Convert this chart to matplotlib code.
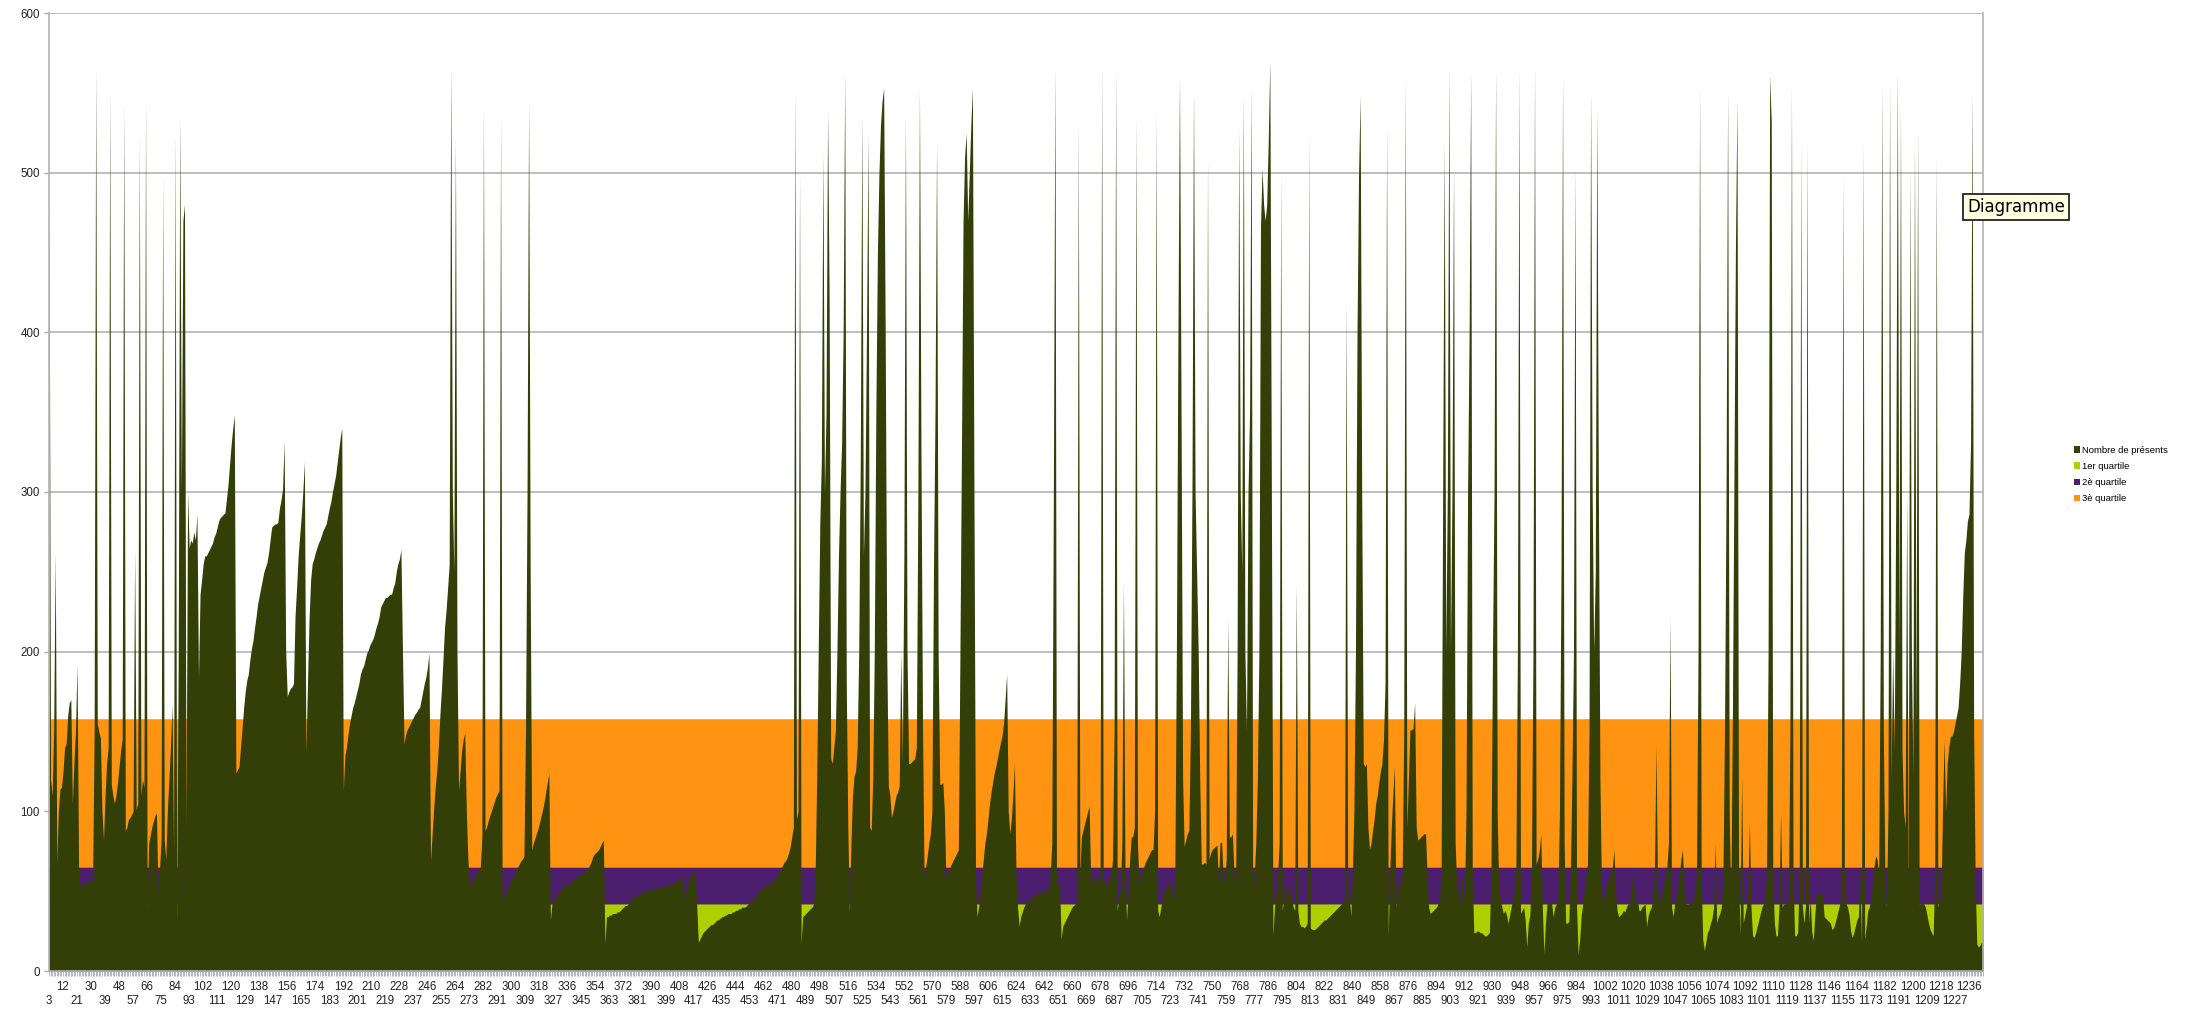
import numpy as np
import matplotlib.pyplot as plt
from matplotlib.patches import Patch

plt.rcParams['font.family'] = ['Liberation Sans', 'DejaVu Sans']

# nombre de présents, une valeur par catégorie, de la catégorie 3 à 1245
presents_1 = [
    510, 120, 110, 150, 262, 68, 100, 114, 115, 125,
    140, 142, 160, 168, 170, 105, 130, 150, 192, 65,
    54, 52, 55, 56, 56, 56, 56, 56, 57, 150,
    567, 155, 150, 146, 100, 82, 110, 130, 140, 551,
    117, 110, 105, 110, 118, 128, 138, 145, 544, 88,
    90, 95, 96, 98, 100, 264, 101, 105, 523, 110,
    120, 115, 546, 40, 80, 85, 90, 94, 97, 99,
    48, 64, 82, 499, 82, 70, 100, 120, 140, 167,
    75, 527, 30, 200, 536, 300, 470, 480, 90, 300,
    265, 270, 268, 275, 270, 286, 184, 236, 245, 255,
]
presents_2 = [
    260, 260, 262, 264, 266, 268, 272, 274, 278, 282,
    284, 285, 286, 287, 296, 305, 318, 330, 340, 348,
    124, 126, 128, 140, 152, 165, 175, 182, 186, 195,
    202, 207, 215, 222, 230, 235, 240, 245, 250, 253,
    256, 262, 270, 278, 279, 280, 280, 281, 290, 295,
    302, 332, 200, 172, 175, 177, 178, 180, 222, 240,
    260, 273, 285, 300, 319, 136, 180, 220, 245, 255,
    258, 262, 265, 268, 270, 273, 276, 278, 280, 285,
    290, 294, 300, 305, 310, 318, 326, 334, 340, 113,
    135, 140, 148, 155, 160, 165, 168, 172, 176, 180,
]
presents_3 = [
    186, 189, 191, 195, 199, 201, 204, 206, 208, 211,
    215, 218, 222, 228, 230, 232, 234, 234, 235, 236,
    236, 240, 243, 250, 255, 258, 264, 200, 142, 148,
    151, 153, 155, 157, 159, 161, 162, 164, 165, 170,
    175, 180, 184, 190, 199, 69, 85, 101, 115, 125,
    140, 160, 176, 195, 215, 226, 240, 255, 567, 300,
    250, 522, 200, 113, 125, 138, 145, 149, 100, 70,
    54, 55, 57, 58, 60, 62, 64, 65, 84, 543,
    88, 90, 94, 97, 100, 103, 106, 109, 111, 113,
    536, 45, 47, 49, 51, 53, 55, 57, 59, 61,
]
presents_4 = [
    63, 65, 67, 69, 70, 72, 150, 300, 544, 250,
    76, 80, 83, 86, 89, 93, 97, 101, 106, 112,
    118, 124, 32, 42, 44, 46, 48, 49, 50, 51,
    52, 53, 54, 54, 55, 56, 56, 57, 58, 59,
    59, 60, 61, 62, 62, 63, 64, 66, 68, 71,
    73, 74, 75, 76, 78, 80, 82, 17, 34, 34,
    35, 35, 36, 36, 36, 37, 37, 38, 39, 40,
    41, 41, 42, 43, 45, 46, 47, 47, 48, 48,
    49, 49, 50, 50, 50, 51, 51, 51, 51, 52,
    52, 52, 52, 52, 53, 53, 53, 53, 54, 54,
]
presents_5 = [
    55, 55, 56, 56, 57, 57, 59, 60, 44, 50,
    54, 57, 59, 61, 62, 63, 40, 18, 20, 22,
    24, 25, 26, 27, 28, 29, 29, 30, 31, 32,
    32, 33, 34, 34, 35, 35, 36, 36, 36, 37,
    37, 38, 38, 39, 39, 40, 40, 40, 41, 42,
    43, 44, 45, 46, 47, 49, 50, 51, 52, 52,
    53, 54, 54, 55, 56, 57, 58, 59, 60, 62,
    64, 66, 68, 69, 71, 74, 78, 84, 90, 553,
    95, 100, 501, 17, 34, 35, 36, 37, 38, 39,
    40, 42, 60, 120, 200, 280, 320, 512, 300, 350,
]
presents_6 = [
    538, 420, 133, 130, 140, 150, 200, 260, 300, 330,
    400, 562, 180, 90, 36, 80, 110, 122, 125, 140,
    200, 320, 536, 260, 300, 400, 524, 90, 88, 120,
    200, 350, 450, 500, 530, 545, 553, 400, 200, 116,
    110, 96, 100, 105, 110, 112, 116, 200, 130, 260,
    536, 200, 130, 130, 131, 132, 133, 140, 300, 552,
    320, 150, 55, 65, 72, 80, 86, 100, 250, 350,
    520, 200, 117, 117, 118, 100, 57, 60, 63, 66,
    68, 70, 72, 74, 76, 200, 330, 470, 510, 525,
    470, 500, 530, 553, 300, 60, 34, 40, 50, 60,
]
presents_7 = [
    70, 80, 86, 95, 105, 112, 118, 124, 128, 133,
    138, 143, 147, 155, 170, 186, 100, 86, 95, 110,
    130, 60, 40, 28, 34, 37, 40, 42, 43, 44,
    45, 46, 47, 47, 48, 48, 49, 49, 49, 50,
    50, 50, 52, 60, 80, 300, 567, 55, 55, 54,
    20, 28, 30, 32, 34, 36, 38, 40, 41, 42,
    43, 533, 60, 84, 88, 92, 96, 100, 103, 55,
    56, 57, 61, 58, 57, 57, 567, 60, 53, 54,
    56, 58, 60, 70, 150, 566, 38, 45, 50, 80,
    244, 60, 32, 50, 70, 84, 84, 90, 536, 80,
]
presents_8 = [
    55, 58, 62, 65, 68, 70, 72, 74, 76, 76,
    100, 540, 38, 34, 40, 45, 50, 51, 53, 55,
    55, 50, 42, 60, 200, 400, 560, 350, 120, 78,
    82, 86, 88, 150, 300, 552, 300, 250, 200, 120,
    67, 67, 68, 67, 509, 70, 74, 76, 77, 78,
    79, 55, 80, 81, 60, 55, 70, 221, 84, 84,
    86, 60, 45, 200, 528, 300, 250, 549, 200, 150,
    300, 350, 554, 42, 60, 80, 120, 200, 465, 503,
    480, 470, 480, 520, 570, 300, 22, 40, 50, 60,
    80, 500, 38, 45, 50, 55, 52, 48, 45, 40,
]
presents_9 = [
    38, 243, 38, 30, 28, 28, 27, 28, 30, 525,
    27, 26, 26, 26, 27, 28, 29, 30, 31, 32,
    32, 33, 34, 35, 36, 37, 38, 39, 40, 41,
    42, 43, 45, 420, 50, 48, 34, 60, 100, 200,
    400, 500, 548, 300, 130, 128, 130, 90, 76, 80,
    88, 95, 105, 110, 118, 125, 130, 145, 180, 530,
    22, 60, 90, 110, 128, 40, 50, 55, 55, 60,
    150, 559, 90, 120, 151, 151, 152, 168, 90, 82,
    83, 84, 85, 86, 86, 60, 40, 36, 37, 38,
    39, 40, 42, 44, 60, 300, 519, 200, 300, 565,
]
presents_10 = [
    200, 300, 505, 80, 55, 50, 42, 60, 55, 45,
    100, 300, 400, 564, 60, 24, 24, 25, 25, 24,
    24, 23, 22, 22, 23, 24, 60, 200, 300, 566,
    100, 50, 45, 40, 36, 38, 35, 30, 35, 40,
    45, 50, 60, 200, 565, 36, 38, 40, 32, 15,
    30, 35, 60, 200, 568, 67, 70, 75, 86, 40,
    11, 30, 42, 43, 44, 42, 34, 40, 42, 43,
    100, 250, 562, 80, 30, 30, 31, 60, 120, 200,
    505, 40, 10, 20, 35, 42, 50, 60, 67, 150,
    551, 300, 200, 250, 540, 300, 120, 50, 42, 48,
]
presents_11 = [
    55, 56, 58, 60, 65, 76, 50, 38, 34, 35,
    36, 38, 37, 40, 42, 42, 50, 63, 50, 42,
    45, 38, 38, 40, 41, 42, 28, 35, 38, 40,
    45, 60, 142, 50, 42, 45, 50, 55, 60, 65,
    80, 222, 40, 34, 42, 46, 52, 60, 70, 76,
    50, 42, 42, 42, 43, 42, 45, 50, 60, 200,
    554, 60, 20, 13, 18, 24, 26, 30, 33, 40,
    80, 30, 34, 36, 40, 60, 150, 300, 552, 100,
    40, 150, 300, 450, 546, 60, 22, 122, 30, 35,
    40, 50, 92, 40, 22, 21, 24, 28, 32, 36,
]
presents_12 = [
    40, 42, 45, 60, 200, 561, 532, 60, 30, 22,
    22, 40, 99, 40, 42, 42, 43, 42, 150, 555,
    60, 22, 22, 24, 60, 519, 40, 30, 40, 519,
    30, 45, 25, 19, 35, 48, 49, 48, 48, 47,
    34, 33, 32, 31, 30, 26, 27, 30, 34, 38,
    42, 45, 499, 50, 42, 40, 35, 25, 21, 24,
    28, 32, 34, 60, 17, 520, 20, 28, 38, 40,
    45, 55, 65, 72, 70, 60, 200, 555, 150, 60,
    40, 100, 557, 120, 200, 138, 300, 563, 200, 542,
    138, 100, 90, 300, 40, 502, 200, 120, 522, 150,
]
presents_13 = [
    527, 42, 42, 43, 42, 40, 35, 30, 26, 24,
    22, 60, 510, 40, 44, 46, 100, 145, 100, 130,
    140, 147, 147, 150, 155, 160, 165, 180, 200, 235,
    262, 270, 282, 286, 330, 550, 150, 55, 17, 15,
    16, 18, 20,
]

# quartiles (constants sur toute la période)
q1 = 42
q2 = 65
q3 = 158

premiere_cat = 3
pas_labels = 9
derniere_label = 1236

series = ['Nombre de présents', '1er quartile', '2è quartile', '3è quartile']
couleurs = ['#333f07', '#b0cf00', '#4b1f6e', '#ff9412']

presents = np.array(presents_1 + presents_2 + presents_3 + presents_4 + presents_5
                    + presents_6 + presents_7 + presents_8 + presents_9 + presents_10
                    + presents_11 + presents_12 + presents_13, dtype=float)
x = np.arange(premiere_cat, premiere_cat + len(presents))

fig = plt.figure(figsize=(22, 10.33), dpi=100)
ax = fig.add_axes([49 / 2200, 62 / 1033, 1934 / 2200, 958 / 1033])

# bandes des quartiles puis la série principale par-dessus
ax.fill_between(x, 0, np.full(len(x), q3), color=couleurs[3], lw=0)
ax.fill_between(x, 0, np.full(len(x), q2), color=couleurs[2], lw=0)
ax.fill_between(x, 0, np.full(len(x), q1), color=couleurs[1], lw=0)
ax.fill_between(x, 0, presents, color=couleurs[0], lw=0)

ax.set_xlim(x[0], x[-1])
ax.set_ylim(0, 600)
ax.set_yticks(range(0, 601, 100))
ax.set_axisbelow(True)
ax.yaxis.grid(True, color='#b3b3b3', lw=1.2)

# étiquettes en quinconce : une rangée haute, une rangée basse
ticks = list(range(premiere_cat, derniere_label + 1, pas_labels))
ticks_haut = ticks[1::2]
ticks_bas = ticks[0::2]
ax.set_xticks(ticks_haut)
ax.set_xticklabels([str(t) for t in ticks_haut])
ax.set_xticks(x, minor=True)
ax.tick_params(axis='x', which='both', length=3.6, width=0.6, color='#aaaaaa',
               labelsize=8.3, labelcolor='#222222', pad=3.4)

sec = ax.secondary_xaxis('bottom')
sec.set_xticks(ticks_bas)
sec.set_xticklabels([str(t) for t in ticks_bas])
sec.tick_params(length=0, labelsize=8.3, labelcolor='#222222', pad=17.6)
sec.spines['bottom'].set_visible(False)

ax.tick_params(axis='y', length=3.6, width=1, color='#aaaaaa',
               labelsize=8.3, labelcolor='#222222', pad=3)

for side in ['left', 'right', 'bottom']:
    ax.spines[side].set_color('#b3b3b3')
    ax.spines[side].set_linewidth(1.2)
ax.spines['top'].set_visible(False)

handles = [Patch(facecolor=c, edgecolor='none') for c in couleurs]
fig.legend(handles, series, loc='upper left', bbox_to_anchor=(2074 / 2200, 1 - 446 / 1033),
           frameon=False, fontsize=6.8, handlelength=0.6, handleheight=0.7,
           handletextpad=0.3, labelspacing=0.75, borderpad=0, borderaxespad=0)

# bulle d'aide visible sur la capture
fig.text(1967 / 2200, 1 - 207 / 1033, 'Diagramme', fontsize=12, ha='left', va='center',
         family=['DejaVu Sans'],
         bbox=dict(boxstyle='square,pad=0.25', fc='#ffffe1', ec='#222222', lw=1.3))

fig.savefig('out.png', dpi=100)
